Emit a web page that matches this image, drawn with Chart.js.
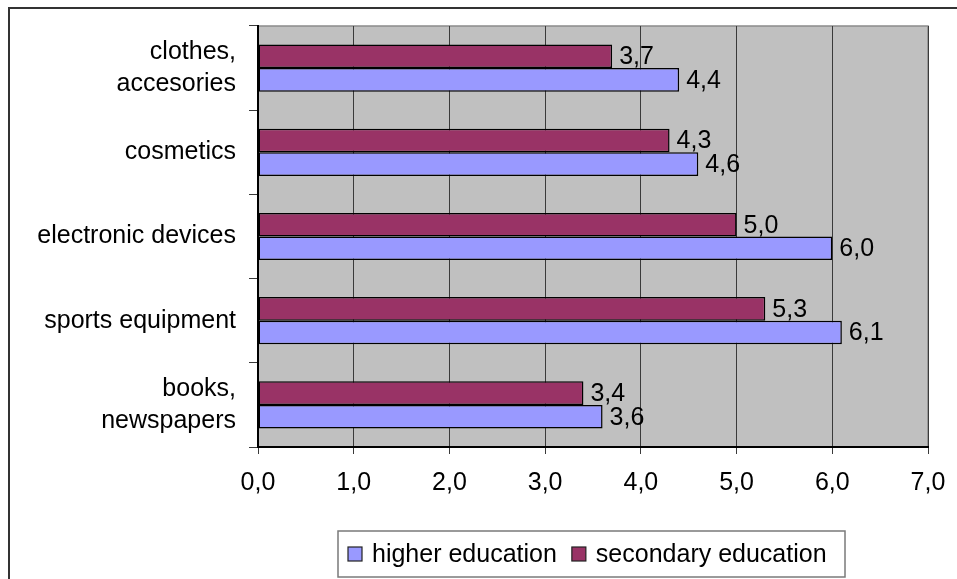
<!DOCTYPE html>
<html>
<head>
<meta charset="utf-8" />
<style>
  html, body { margin: 0; padding: 0; background: #ffffff; }
  canvas { display: block; }
</style>
</head>
<body>
<canvas id="c" width="957" height="579"></canvas>
<script src="https://cdn.jsdelivr.net/npm/chart.js@4.4.3/dist/chart.umd.min.js"></script>
<script>
  const categories = [
    ['clothes,', 'accesories'],
    'cosmetics',
    'electronic devices',
    'sports equipment',
    ['books,', 'newspapers']
  ];
  const higherEducation = [4.4, 4.6, 6.0, 6.1, 3.6];
  const secondaryEducation = [3.7, 4.3, 5.0, 5.3, 3.4];
  const xMin = 0;
  const xMax = 7;

  const FONT = 'Liberation Sans, Arial, sans-serif';
  const fmt = (v) => Number(v).toFixed(1).replace('.', ',');

  // grey plot area with a thin frame, plus the outer chart frame
  const backdrop = {
    id: 'backdrop',
    beforeDraw(chart) {
      const { ctx, chartArea: a } = chart;
      ctx.save();
      ctx.fillStyle = '#c0c0c0';
      ctx.fillRect(a.left, a.top, a.right - a.left, a.bottom - a.top);
      ctx.strokeStyle = '#8a8a8a';
      ctx.lineWidth = 1.5;
      ctx.strokeRect(a.left, a.top, a.right - a.left, a.bottom - a.top);
      ctx.strokeStyle = '#333333';
      ctx.lineWidth = 2;
      ctx.beginPath();
      ctx.moveTo(9, 579);
      ctx.lineTo(9, 8);
      ctx.lineTo(957, 8);
      ctx.stroke();
      ctx.restore();
    }
  };

  // value labels at the end of each bar
  const valueLabels = {
    id: 'valueLabels',
    afterDatasetsDraw(chart) {
      const { ctx } = chart;
      ctx.save();
      ctx.font = '25px ' + FONT;
      ctx.fillStyle = '#000000';
      ctx.textAlign = 'left';
      ctx.textBaseline = 'middle';
      chart.data.datasets.forEach((ds, i) => {
        chart.getDatasetMeta(i).data.forEach((bar, j) => {
          ctx.fillText(fmt(ds.data[j]), bar.x + 7, bar.y + 1);
        });
      });
      ctx.restore();
    }
  };

  // boxed legend under the axis, higher education first
  const boxLegend = {
    id: 'boxLegend',
    afterDraw(chart) {
      const { ctx } = chart;
      const box = { left: 338, top: 531, right: 845, bottom: 577 };
      const midY = (box.top + box.bottom) / 2;
      ctx.save();
      ctx.strokeStyle = '#7a7a7a';
      ctx.lineWidth = 1.5;
      ctx.strokeRect(box.left, box.top, box.right - box.left, box.bottom - box.top);
      ctx.font = '25px ' + FONT;
      ctx.textBaseline = 'middle';
      ctx.textAlign = 'left';
      let x = box.left + 10;
      chart.data.datasets.slice().reverse().forEach((ds) => {
        ctx.fillStyle = ds.backgroundColor;
        ctx.fillRect(x, midY - 7, 14, 14);
        ctx.strokeStyle = '#222222';
        ctx.lineWidth = 1.2;
        ctx.strokeRect(x, midY - 7, 14, 14);
        ctx.fillStyle = '#000000';
        ctx.fillText(ds.label, x + 24, midY + 1);
        x += 24 + ctx.measureText(ds.label).width + 15;
      });
      ctx.restore();
    }
  };

  new Chart(document.getElementById('c').getContext('2d'), {
    type: 'bar',
    data: {
      labels: categories,
      datasets: [
        {
          label: 'secondary education',
          data: secondaryEducation,
          backgroundColor: '#993366',
          borderColor: '#000000',
          borderWidth: 1.5,
          borderSkipped: false
        },
        {
          label: 'higher education',
          data: higherEducation,
          backgroundColor: '#9999ff',
          borderColor: '#000000',
          borderWidth: 1.5,
          borderSkipped: false
        }
      ]
    },
    options: {
      indexAxis: 'y',
      responsive: false,
      animation: false,
      categoryPercentage: 0.56,
      barPercentage: 1,
      layout: { padding: { left: 0, top: 26, right: 29, bottom: 0 } },
      plugins: {
        legend: { display: false },
        tooltip: { enabled: false }
      },
      scales: {
        x: {
          min: xMin,
          max: xMax,
          afterFit(scale) {
            scale.height = 132;
            scale.paddingLeft = 0;
            scale.paddingRight = 0;
          },
          ticks: {
            stepSize: 1,
            color: '#000000',
            font: { family: FONT, size: 25 },
            padding: 14,
            maxRotation: 0,
            callback: (v) => fmt(v)
          },
          grid: {
            color: '#3a3a3a',
            lineWidth: 1,
            tickLength: 7,
            tickColor: '#3a3a3a'
          },
          border: { color: '#000000', width: 2 }
        },
        y: {
          afterFit(scale) {
            scale.width = 258;
            scale.paddingTop = 0;
            scale.paddingBottom = 0;
          },
          ticks: {
            color: '#000000',
            font: { family: FONT, size: 25, lineHeight: 1.3 },
            padding: 13
          },
          grid: {
            offset: true,
            drawOnChartArea: false,
            tickLength: 9,
            tickColor: '#3a3a3a',
            lineWidth: 1
          },
          border: { color: '#000000', width: 2 }
        }
      }
    },
    plugins: [backdrop, valueLabels, boxLegend]
  });
</script>
</body>
</html>
